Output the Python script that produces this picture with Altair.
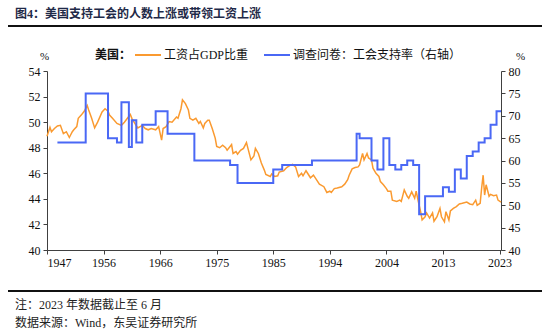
import altair as alt
import pandas as pd

# ---------------- data ----------------
wage_years = [
    1947.0, 1947.5, 1947.75, 1948.25, 1948.75, 1949.25, 1949.75, 1950.25, 1950.75, 1951.25,
    1951.5, 1952.0, 1952.25, 1952.75, 1953.25, 1953.75, 1954.0, 1954.5, 1955.0, 1955.5,
    1956.25, 1956.75, 1957.25, 1957.5, 1958.0, 1958.75, 1959.5, 1960.0, 1960.5, 1961.0,
    1961.25, 1961.75, 1962.25, 1963.0, 1963.5, 1964.0, 1964.5, 1965.25, 1965.75, 1966.25,
    1966.5, 1967.0, 1967.5, 1968.0, 1968.75, 1969.0, 1969.5, 1969.75, 1970.25, 1970.75,
    1971.0, 1971.5, 1972.0, 1972.5, 1972.75, 1973.25, 1973.5, 1974.0, 1974.25, 1974.75,
    1975.25, 1975.5, 1976.0, 1976.5, 1977.0, 1977.25, 1977.75, 1978.0, 1978.25, 1978.75,
    1979.0, 1979.5, 1980.0, 1980.5, 1980.75, 1981.25, 1981.75, 1982.0, 1982.5, 1983.0,
    1983.5, 1983.75, 1984.5, 1984.75, 1985.25, 1985.75, 1986.0, 1986.75, 1987.25, 1987.75,
    1988.25, 1988.75, 1989.25, 1989.75, 1990.0, 1990.5, 1991.25, 1991.75, 1992.25, 1992.75,
    1993.5, 1994.0, 1994.5, 1994.75, 1995.25, 1995.75, 1996.5, 1997.0, 1997.5, 1997.75,
    1998.25, 1998.75, 1999.25, 1999.5, 2000.0, 2000.25, 2000.75, 2001.0, 2001.5, 2001.75,
    2002.25, 2002.75, 2003.0, 2003.5, 2004.0, 2004.25, 2004.75, 2005.0, 2005.75, 2006.25,
    2006.5, 2007.0, 2007.5, 2007.75, 2008.25, 2008.75, 2009.0, 2009.5, 2009.75, 2010.0,
    2010.5, 2010.75, 2011.25, 2011.75, 2012.0, 2012.5, 2013.0, 2013.25, 2013.75, 2014.0,
    2014.5, 2014.75, 2015.25, 2015.75, 2016.25, 2016.75, 2017.5, 2018.0, 2018.5, 2019.0,
    2019.25, 2019.75, 2020.0, 2020.25, 2020.5, 2020.75, 2021.25, 2021.5, 2022.0, 2022.5,
    2022.75, 2023.25,
]
wage_values = [
    48.9, 49.6, 49.25, 49.5, 49.7, 49.75, 49.1, 49.25, 48.8, 49.25,
    49.4, 49.65, 50.3, 50.55, 50.85, 51.3, 50.95, 50.3, 49.55, 50.0,
    50.8, 51.05, 50.85, 50.55, 50.3, 49.9, 49.75, 50.0, 50.3, 50.6,
    50.3, 49.9, 49.55, 49.75, 49.5, 49.4, 49.5, 49.4, 49.65, 48.6,
    49.5, 49.65, 50.05, 50.0, 50.4, 50.3, 51.05, 51.75, 51.45, 50.95,
    50.3, 50.15, 50.3, 49.9, 50.05, 49.55, 49.9, 50.15, 50.15, 49.5,
    48.75, 48.1, 48.0, 48.2, 48.0, 47.8, 48.1, 48.25, 47.55, 47.7,
    47.5, 47.8, 47.95, 48.4, 47.95, 47.05, 47.35, 47.95, 47.55, 46.8,
    46.25, 45.9, 45.75, 45.95, 45.75, 45.8, 46.1, 46.2, 46.45, 46.6,
    46.7, 46.5, 45.75, 46.0, 45.8, 46.2, 45.65, 45.85, 45.5, 45.15,
    44.95, 44.5, 44.6, 44.5, 44.8, 44.85, 44.95, 45.15, 45.5, 45.85,
    46.35, 46.45, 46.5, 46.65, 47.55, 47.05, 47.55, 47.2, 47.05, 46.4,
    46.0, 45.75, 45.35, 45.1, 44.8, 44.6, 44.6, 43.9, 43.8, 43.9,
    43.8, 44.7, 44.2, 44.05, 44.55, 44.05, 44.6, 43.5, 43.0, 42.35,
    42.6, 42.9, 42.5, 42.9, 42.25, 42.6, 43.25, 42.6, 42.2, 43.0,
    42.35, 43.05, 43.25, 43.4, 43.6, 43.65, 43.75, 43.6, 43.55, 43.9,
    43.5, 43.65, 44.85, 45.85, 44.3, 45.1, 44.2, 44.35, 44.25, 44.3,
    43.9, 43.75,
]

survey_years = [
    1948.75, 1953.5, 1957.25, 1958.75, 1959.5, 1960.75, 1961.25, 1962.0, 1963.0, 1965.25,
    1967.25, 1971.75, 1977.75, 1979.0, 1985.0, 1986.5, 1991.5, 1999.0, 1999.5, 2001.5,
    2002.5, 2003.5, 2004.5, 2005.5, 2006.5, 2007.5, 2008.5, 2009.5, 2010.5, 2013.5,
    2014.5, 2015.5, 2016.5, 2017.5, 2018.5, 2019.5, 2020.5, 2021.5, 2022.5, 2023.25,
]
survey_values = [
    64, 75, 65, 64, 73, 63, 69, 64, 68, 71,
    66, 60, 59, 55, 58, 59, 60, 66, 65, 60,
    58, 65, 59, 58, 59, 60, 59, 48, 52, 54,
    53, 58, 56, 61, 62, 64, 65, 68, 71, 71,
]

x_tick_years = [1947, 1956.5, 1966, 1975.5, 1985, 1994.5, 2004, 2013.5, 2023]
left_ticks = [40, 42, 44, 46, 48, 50, 52, 54]
right_ticks = [40, 45, 50, 55, 60, 65, 70, 75, 80]

title_text = "图4：美国支持工会的人数上涨或带领工资上涨"
legend_prefix = "美国："
wage_label = "工资占GDP比重"
survey_label = "调查问卷：工会支持率（右轴）"
note_text = "注：2023 年数据截止至 6 月"
source_text = "数据来源：Wind，东吴证券研究所"

# ---------------- styling ----------------
ORANGE = "#FA9A30"
BLUE = "#4A68F5"
AXIS_COLOR = "#404040"
FONT = "Liberation Serif, Noto Sans CJK SC"
W, H = 454, 179

wage = pd.DataFrame({"year": wage_years, "value": wage_values})
survey = pd.DataFrame({"year": survey_years, "value": survey_values})
one = pd.DataFrame({"k": [0]})

axis_common = dict(
    title=None, grid=False, domainColor=AXIS_COLOR, tickColor=AXIS_COLOR,
    labelColor="#111111", labelFont=FONT, labelFontSize=12, tickSize=4,
    domainWidth=1, tickWidth=1,
)

x_enc = alt.X(
    "year:Q",
    scale=alt.Scale(domain=[1947, 2023.25], nice=False, zero=False),
    axis=alt.Axis(values=x_tick_years, labelExpr="'' + floor(datum.value)",
                  labelPadding=3, **axis_common),
)

wage_line = alt.Chart(wage).mark_line(color=ORANGE, strokeWidth=1.5).encode(
    x=x_enc,
    y=alt.Y("value:Q",
            scale=alt.Scale(domain=[40, 54], nice=False, zero=False),
            axis=alt.Axis(orient="left", values=left_ticks, labelPadding=3, **axis_common)),
)

survey_line = alt.Chart(survey).mark_line(color=BLUE, strokeWidth=2, interpolate="step-after").encode(
    x=x_enc,
    y=alt.Y("value:Q",
            scale=alt.Scale(domain=[40, 80], nice=False, zero=False),
            axis=alt.Axis(orient="right", values=right_ticks, labelPadding=3, **axis_common)),
)


def txt(text, x, y, size=12, weight="normal", color="#111111", align="left"):
    return alt.Chart(one).mark_text(
        align=align, baseline="middle", font=FONT, fontSize=size,
        fontWeight=weight, color=color,
    ).encode(x=alt.value(x), y=alt.value(y), text=alt.value(text))


def rule(x1, x2, y, color, width):
    return alt.Chart(one).mark_rule(color=color, strokeWidth=width).encode(
        x=alt.value(x1), x2=alt.value(x2), y=alt.value(y)
    )


# offsets relative to plot origin (47, 71)
decor = [
    txt(title_text, -32, -57, size=12, weight="bold", color="#1F2A48"),
    rule(-39, 495, -45, "#111111", 2),
    txt("%", -7, -14, size=11),
    txt("%", 469, -14, size=11),
    txt(legend_prefix, 48, -16, weight="bold"),
    rule(88, 114, -16, ORANGE, 2),
    txt(wage_label, 117, -16),
    rule(217, 243, -16, BLUE, 2),
    txt(survey_label, 246, -16),
    rule(-39, 495, 220, "#111111", 2),
    txt(note_text, -32, 234, size=12, color="#222222"),
    txt(source_text, -32, 252, size=12, color="#222222"),
]

chart = alt.layer(wage_line, survey_line, *decor).resolve_scale(
    y="independent"
).properties(
    width=W, height=H,
    autosize=alt.AutoSizeParams(type="none"),
    padding={"left": 47, "top": 71, "right": 49, "bottom": 82},
    background="white",
).configure_view(stroke=None)

chart.save("out.html", embed_options={"renderer": "svg", "actions": False})
